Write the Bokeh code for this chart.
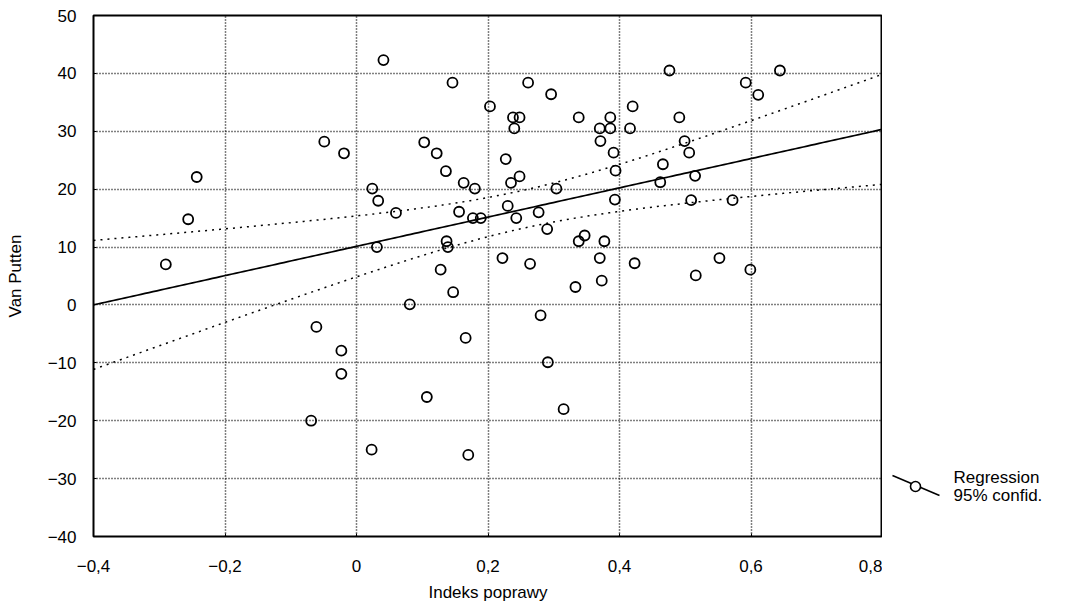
import numpy as np
from bokeh.plotting import figure
from bokeh.models import Range1d, FixedTicker, CustomJSTickFormatter
from bokeh.layouts import row
from bokeh.embed import file_html
from bokeh.resources import INLINE
from bokeh.core.properties import value

# ---- data ----
indeks = [0.041, -0.049, -0.019, -0.243, 0.024, 0.033, -0.256, -0.290, 0.031, -0.061,
          -0.023, -0.023, -0.069, 0.023, 0.107, 0.170, 0.315, 0.146, 0.261, 0.296,
          0.203, 0.238, 0.248, 0.240, 0.338, 0.386, 0.370, 0.386, 0.371, 0.416,
          0.420, 0.391, 0.394, 0.393, 0.103, 0.122, 0.136, 0.163, 0.180, 0.227,
          0.235, 0.248, 0.304, 0.476, 0.644, 0.592, 0.611, 0.491, 0.499, 0.506,
          0.466, 0.462, 0.515, 0.509, 0.572, 0.423, 0.516, 0.552, 0.599, 0.060,
          0.156, 0.177, 0.189, 0.230, 0.243, 0.277, 0.290, 0.137, 0.139, 0.222,
          0.264, 0.128, 0.147, 0.081, 0.347, 0.338, 0.377, 0.370, 0.373, 0.333,
          0.280, 0.166, 0.291]
van_putten = [42.3, 28.2, 26.2, 22.1, 20.1, 18.0, 14.8, 7.0, 10.0, -3.8,
              -7.9, -11.9, -20.0, -25.0, -15.9, -25.9, -18.0, 38.4, 38.4, 36.4,
              34.3, 32.4, 32.4, 30.5, 32.4, 32.4, 30.5, 30.5, 28.3, 30.5,
              34.3, 26.3, 23.2, 18.2, 28.1, 26.2, 23.1, 21.1, 20.1, 25.2,
              21.1, 22.2, 20.1, 40.5, 40.5, 38.4, 36.3, 32.4, 28.3, 26.3,
              24.3, 21.2, 22.3, 18.1, 18.1, 7.2, 5.1, 8.1, 6.1, 15.9,
              16.1, 15.0, 15.0, 17.1, 15.0, 16.0, 13.1, 11.0, 10.0, 8.1,
              7.1, 6.1, 2.2, 0.1, 12.0, 11.0, 11.0, 8.1, 4.2, 3.1,
              -1.8, -5.7, -9.9]

x_ticks = [-0.4, -0.2, 0.0, 0.2, 0.4, 0.6, 0.8]
y_ticks = [-40, -30, -20, -10, 0, 10, 20, 30, 40, 50]
x_title = "Indeks poprawy"
y_title = "Van Putten"
legend_labels = ["Regression", "95% confid."]

FONT = "Liberation Sans"

# ---- regression with 95% confidence band, computed from the data ----
xa = np.array(indeks)
ya = np.array(van_putten)
n = len(xa)
slope, intercept = np.polyfit(xa, ya, 1)
resid = ya - (intercept + slope * xa)
s = np.sqrt(np.sum(resid ** 2) / (n - 2))
sxx = np.sum((xa - xa.mean()) ** 2)
t_crit = 1.99
xs = np.linspace(x_ticks[0], x_ticks[-1], 200)
fit = intercept + slope * xs
se = s * np.sqrt(1.0 / n + (xs - xa.mean()) ** 2 / sxx)
upper = fit + t_crit * se
lower = fit - t_crit * se

p = figure(frame_width=789, frame_height=521,
           x_range=Range1d(x_ticks[0], x_ticks[-1]),
           y_range=Range1d(y_ticks[0], y_ticks[-1]),
           output_backend="svg", toolbar_location=None,
           min_border_left=93, min_border_top=15, min_border_bottom=70,
           min_border_right=0, background_fill_color="white",
           border_fill_color="white")

p.outline_line_color = "black"
p.outline_line_width = 2

p.xaxis.ticker = FixedTicker(ticks=x_ticks)
p.yaxis.ticker = FixedTicker(ticks=y_ticks)
p.xaxis.formatter = CustomJSTickFormatter(code="""
    if (Math.abs(tick) < 1e-9) { return "0"; }
    var s = tick.toFixed(1).replace('.', ',');
    return s.replace('-', '\u2212');
""")
p.yaxis.formatter = CustomJSTickFormatter(code="""
    return String(Math.round(tick)).replace('-', '\u2212');
""")

for ax in (p.xaxis, p.yaxis):
    ax.axis_line_color = "black"
    ax.major_tick_out = 0
    ax.major_tick_in = 3
    ax.minor_tick_out = 0
    ax.minor_tick_in = 0
    ax.major_label_text_font = FONT
    ax.major_label_text_font_size = "17px"
    ax.major_label_text_color = "black"
    ax.axis_label_text_font = FONT
    ax.axis_label_text_font_size = "17px"
    ax.axis_label_text_font_style = "normal"
    ax.axis_label_text_color = "black"

p.xaxis.axis_label = x_title
p.yaxis.axis_label = y_title
p.xaxis.major_label_standoff = 23
p.xaxis.axis_label_standoff = 8
p.yaxis.major_label_standoff = 17
p.yaxis.axis_label_standoff = 20

for g in (p.xgrid, p.ygrid):
    g.grid_line_color = "black"
    g.grid_line_dash = "1 2"
    g.grid_line_width = 1.5

p.line(xs, upper, line_color="black", line_width=1.5, line_dash="2 5")
p.line(xs, lower, line_color="black", line_width=1.5, line_dash="2 5")
p.line(xs, fit, line_color="black", line_width=1.7)
p.scatter(indeks, van_putten, marker="circle", size=10, fill_color=None,
          line_color="black", line_width=1.8)

# ---- legend panel at the right (its frame is aligned with the main frame,
#      ranges chosen so that data units equal page pixels) ----
lg = figure(width=185, height=607, x_range=Range1d(882, 1067), y_range=Range1d(536, 15),
            output_backend="svg", toolbar_location=None,
            x_axis_location=None, y_axis_location=None,
            min_border_left=0, min_border_right=0, min_border_top=15,
            min_border_bottom=71, background_fill_color="white",
            border_fill_color="white")
lg.outline_line_color = None
lg.xgrid.visible = False
lg.ygrid.visible = False
lg.line([892, 939], [475, 495], line_color="black", line_width=1.6)
lg.scatter([915], [486], marker="circle", size=10, fill_color="white",
           line_color="black", line_width=1.6)
lg.text([953, 953], [477, 495], text=legend_labels, text_font=value(FONT),
        text_font_size="17px", text_baseline="middle", text_align="left",
        text_color="black")

layout = row(p, lg)
open("out.html", "w").write(file_html(layout, INLINE))
